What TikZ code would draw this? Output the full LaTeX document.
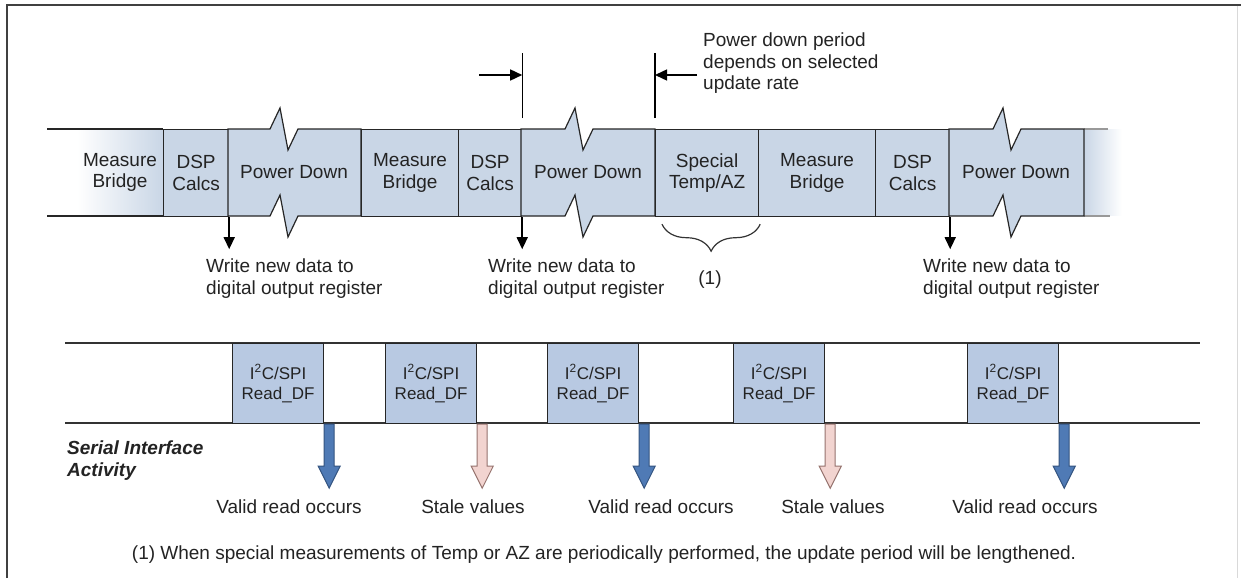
\documentclass[tikz,border=0pt]{standalone}
\usepackage{fontspec}
\setmainfont{Liberation Sans}
\usepackage{xcolor}
\usetikzlibrary{arrows.meta,positioning,calc,decorations.pathreplacing}

\definecolor{boxblue}{RGB}{201,214,230}
\definecolor{readblue}{RGB}{184,201,226}
\definecolor{validblue}{RGB}{79,122,181}
\definecolor{validedge}{RGB}{52,84,128}
\definecolor{stalepink}{RGB}{242,212,208}
\definecolor{staleedge}{RGB}{150,115,110}
\definecolor{txt}{RGB}{35,35,35}

% power down block with a break on top and bottom: left x, break x, right x
\newcommand{\pdshape}[3]{%
  \filldraw[fill=boxblue,draw=black!85,line width=1.2pt,line join=miter]
    (#1,129) -- (#2,129) -- ++(10,-21) -- ++(8,42) -- ++(10,-21) -- (#3,129)
    -- (#3,216) -- (#2+28,216) -- ++(-10,21) -- ++(-8,-42) -- ++(-10,21) -- (#1,216) -- cycle;}

\begin{document}
\begin{tikzpicture}[x=1pt,y=-1pt,font=\fontsize{19}{21.5}\selectfont,>={Triangle[length=12pt,width=11pt]},
  phase/.style={draw=black!85,fill=boxblue,line width=1.2pt,align=center,inner sep=0pt,minimum height=87pt,anchor=north west,text=txt},
  read/.style={draw=black!85,fill=readblue,line width=1.2pt,align=center,inner sep=0pt,minimum width=91pt,minimum height=80pt,anchor=north west,text=txt,font=\fontsize{17}{20}\selectfont},
  lbl/.style={inner sep=0pt,text=txt,align=left},
  valid/.style={fill=validblue,draw=validedge,line width=1pt},
  stale/.style={fill=stalepink,draw=staleedge,line width=1pt}]
\useasboundingbox (0,0) rectangle (1241,578);
\fill[white] (0,0) rectangle (1241,578);
% frame
\draw[line width=2pt,black!75] (7,578) -- (7,5) -- (1241,5);
\draw[line width=1pt,black!15] (1237,6) -- (1237,578);

% measurement cycle
\shade[left color=white,right color=boxblue] (77,129) rectangle (163,216);
\draw[line width=1.2pt,black!85] (47,129) -- (163,129) (47,216) -- (163,216);
\node[lbl,align=center] (mb1) at (120,172.5) {Measure\\Bridge};
\node[phase,minimum width=65pt] (dsp1) at (163,129) {DSP\\Calcs};
\pdshape{228}{270}{361}
\node[lbl] (pd1) at (294,172.5) {Power Down};
\node[phase,minimum width=97pt] (mb2) at (361,129) {Measure\\Bridge};
\node[phase,minimum width=63pt] (dsp2) at (458,129) {DSP\\Calcs};
\pdshape{521}{565}{655}
\node[lbl] (pd2) at (588,172.5) {Power Down};
\node[phase,minimum width=103pt] (sp) at (655,129) {Special\\Temp/AZ};
\node[phase,minimum width=117pt] (mb3) at (758,129) {Measure\\Bridge};
\node[phase,minimum width=74pt] (dsp3) at (875,129) {DSP\\Calcs};
\shade[left color=boxblue,right color=white] (1084,129.6) rectangle (1122,215.4);
\draw[line width=1.2pt,black!40] (1084,129) -- (1108,129) (1084,216) -- (1110,216);
\pdshape{949}{993}{1084}
\node[lbl] (pd3) at (1016,172.5) {Power Down};

% power down period markers
\draw[line width=1.2pt] ($(dsp2.north east)+(0,-11)$) -- ++(0,-65);
\draw[line width=1.2pt] ($(sp.north west)+(0,-11)$) -- ++(0,-65);
\draw[->,line width=1.5pt] ($(dsp2.north east)+(-43,-54)$) -- ($(dsp2.north east)+(0,-54)$);
\draw[->,line width=1.5pt] ($(sp.north west)+(42,-54)$) -- ($(sp.north west)+(0,-54)$);
\node[lbl,anchor=north west] (pdnote) at (703,33) {Power down period\\depends on selected\\update rate};

% register writes
\node[lbl,anchor=north west] (wr1) at (206,259) {Write new data to\\digital output register};
\node[lbl,anchor=north west] (wr2) at (488,259) {Write new data to\\digital output register};
\node[lbl,anchor=north west] (wr3) at (923,259) {Write new data to\\digital output register};
\draw[->,line width=1.5pt] (dsp1.south east) -- ++(0,32);
\draw[->,line width=1.5pt] (dsp2.south east) -- ++(0,32);
\draw[->,line width=1.5pt] (dsp3.south east) -- ++(0,32);

% special measurement
\draw[line width=1.2pt,black!80,decorate,decoration={brace,mirror,amplitude=27pt}]
  ($(sp.south west)+(7,7)$) -- ($(sp.south east)+(1,7)$);
\node[lbl] (n1) at (710,280) {(1)};

% serial interface
\draw[line width=1.2pt,black!80] (65,343) -- (1200,343) (65,423) -- (1200,423);
\node[lbl,anchor=north west] (sia) at (67,441) {\bfseries\itshape Serial Interface\\\bfseries\itshape Activity};
\foreach \x/\s/\r [count=\i] in {232/valid/Valid read occurs,385/stale/Stale values,547/valid/Valid read occurs,733/stale/Stale values,967/valid/Valid read occurs}{
  \node[read] (rd\i) at (\x,343) {I\textsuperscript{2}C/SPI\\Read\_DF};
  \filldraw[\s] (rd\i.south east) -- ++(10,0) -- ++(0,42) -- ++(6,0) -- ++(-11,22)
    -- ++(-11,-22) -- ++(6,0) -- cycle;
}
\node[lbl,anchor=base] (res1) at (289,513) {Valid read occurs};
\node[lbl,anchor=base] (res2) at (473,513) {Stale values};
\node[lbl,anchor=base] (res3) at (661,513) {Valid read occurs};
\node[lbl,anchor=base] (res4) at (833,513) {Stale values};
\node[lbl,anchor=base] (res5) at (1025,513) {Valid read occurs};

\node[lbl,anchor=base] (note) at (604,559) {(1) When special measurements of Temp or AZ are periodically performed, the update period will be lengthened.};
\end{tikzpicture}
\end{document}
